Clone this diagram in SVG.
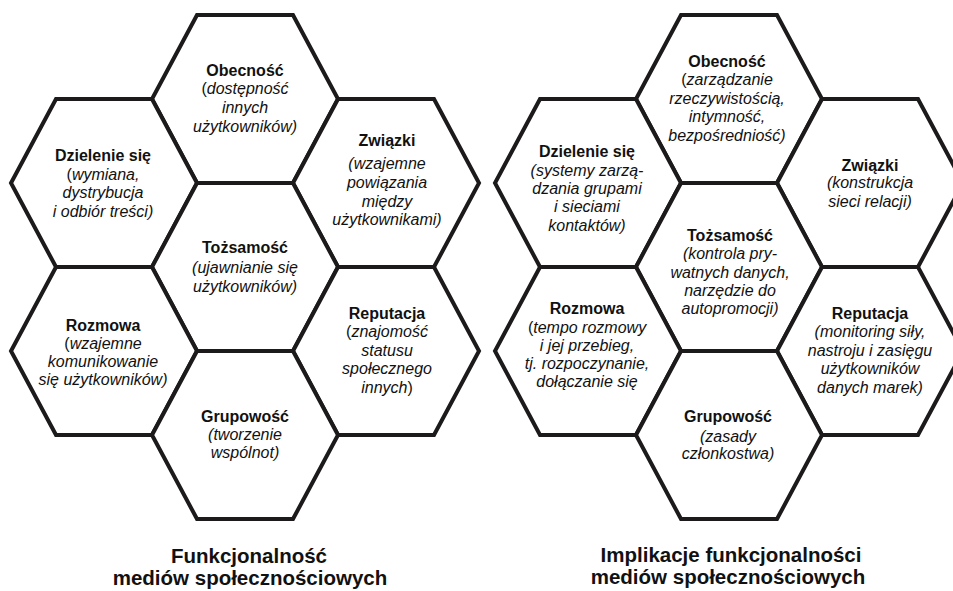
<svg xmlns="http://www.w3.org/2000/svg" width="953" height="591" viewBox="0 0 953 591">
<style>
.hex{fill:#fff;stroke:#1c1a1a;stroke-width:4;stroke-linejoin:miter}
text{font-family:"Liberation Sans",Arial,sans-serif;fill:#111;text-anchor:middle}
.t{font-weight:bold;font-size:16px}
.d{font-style:italic;font-size:16px}
.u{font-style:normal}
.cap{font-weight:bold;font-size:20.5px}
</style>
<defs>
<polygon id="hx" points="-48,-84 48,-84 93,0 48,84 -48,84 -93,0"/>
</defs>
<rect width="953" height="591" fill="#fff"/>

<g id="left">
<g id="l-obecnosc"><use href="#hx" class="hex" x="245" y="99"/>
<text class="t" x="245" y="76">Obecność</text>
<text class="d" x="245" y="94"><tspan class="u">(</tspan>dostępność</text>
<text class="d" x="245" y="113">innych</text>
<text class="d" x="245" y="132">użytkowników)</text></g>

<g id="l-dzielenie"><use href="#hx" class="hex" x="104" y="183"/>
<text class="t" x="103" y="161">Dzielenie się</text>
<text class="d" x="103" y="180"><tspan class="u">(</tspan>wymiana,</text>
<text class="d" x="103" y="198">dystrybucja</text>
<text class="d" x="103" y="217">i odbiór treści)</text></g>

<g id="l-zwiazki"><use href="#hx" class="hex" x="386" y="183"/>
<text class="t" x="387" y="146">Związki</text>
<text class="d" x="387" y="169">(wzajemne</text>
<text class="d" x="387" y="188">powiązania</text>
<text class="d" x="387" y="207">między</text>
<text class="d" x="387" y="225">użytkownikami)</text></g>

<g id="l-tozsamosc"><use href="#hx" class="hex" x="245" y="267"/>
<text class="t" x="245" y="253">Tożsamość</text>
<text class="d" x="245" y="273">(ujawnianie się</text>
<text class="d" x="245" y="292">użytkowników)</text></g>

<g id="l-rozmowa"><use href="#hx" class="hex" x="104" y="351"/>
<text class="t" x="103" y="331">Rozmowa</text>
<text class="d" x="103" y="349"><tspan class="u">(</tspan>wzajemne</text>
<text class="d" x="103" y="367">komunikowanie</text>
<text class="d" x="103" y="385">się użytkowników)</text></g>

<g id="l-reputacja"><use href="#hx" class="hex" x="386" y="351"/>
<text class="t" x="387" y="319">Reputacja</text>
<text class="d" x="387" y="337"><tspan class="u">(</tspan>znajomość</text>
<text class="d" x="387" y="356">statusu</text>
<text class="d" x="387" y="374">społecznego</text>
<text class="d" x="387" y="393">innych<tspan class="u">)</tspan></text></g>

<g id="l-grupowosc"><use href="#hx" class="hex" x="245" y="435"/>
<text class="t" x="245" y="422">Grupowość</text>
<text class="d" x="245" y="440">(tworzenie</text>
<text class="d" x="245" y="458">wspólnot)</text></g>

<g id="l-caption">
<text class="cap" x="249" y="563">Funkcjonalność</text>
<text class="cap" x="250" y="585">mediów społecznościowych</text></g>
</g>

<g id="right">
<g id="r-obecnosc"><use href="#hx" class="hex" x="729" y="99"/>
<text class="t" x="727" y="67">Obecność</text>
<text class="d" x="727" y="85"><tspan class="u">(</tspan>zarządzanie</text>
<text class="d" x="727" y="104">rzeczywistością,</text>
<text class="d" x="727" y="122">intymność,</text>
<text class="d" x="727" y="141">bezpośredniość)</text></g>

<g id="r-dzielenie"><use href="#hx" class="hex" x="588" y="183"/>
<text class="t" x="587" y="157">Dzielenie się</text>
<text class="d" x="587" y="176">(systemy zarzą-</text>
<text class="d" x="587" y="194">dzania grupami</text>
<text class="d" x="587" y="212">i sieciami</text>
<text class="d" x="587" y="231">kontaktów)</text></g>

<g id="r-zwiazki"><use href="#hx" class="hex" x="870" y="183"/>
<text class="t" x="870" y="171">Związki</text>
<text class="d" x="870" y="188">(konstrukcja</text>
<text class="d" x="870" y="207">sieci relacji)</text></g>

<g id="r-tozsamosc"><use href="#hx" class="hex" x="729" y="267"/>
<text class="t" x="730" y="241">Tożsamość</text>
<text class="d" x="730" y="259">(kontrola pry-</text>
<text class="d" x="730" y="278">watnych danych,</text>
<text class="d" x="730" y="296">narzędzie do</text>
<text class="d" x="730" y="314">autopromocji)</text></g>

<g id="r-rozmowa"><use href="#hx" class="hex" x="588" y="351"/>
<text class="t" x="587" y="314">Rozmowa</text>
<text class="d" x="587" y="333"><tspan class="u">(</tspan>tempo rozmowy</text>
<text class="d" x="587" y="351">i jej przebieg,</text>
<text class="d" x="587" y="369">tj. rozpoczynanie,</text>
<text class="d" x="587" y="387">dołączanie się</text></g>

<g id="r-reputacja"><use href="#hx" class="hex" x="870" y="351"/>
<text class="t" x="870" y="319">Reputacja</text>
<text class="d" x="870" y="337">(monitoring siły,</text>
<text class="d" x="870" y="356">nastroju i zasięgu</text>
<text class="d" x="870" y="374">użytkowników</text>
<text class="d" x="870" y="393">danych marek)</text></g>

<g id="r-grupowosc"><use href="#hx" class="hex" x="729" y="435"/>
<text class="t" x="728" y="422">Grupowość</text>
<text class="d" x="728" y="442">(zasady</text>
<text class="d" x="728" y="459">członkostwa)</text></g>

<g id="r-caption">
<text class="cap" x="731" y="562">Implikacje funkcjonalności</text>
<text class="cap" x="728" y="584">mediów społecznościowych</text></g>
</g>
</svg>
